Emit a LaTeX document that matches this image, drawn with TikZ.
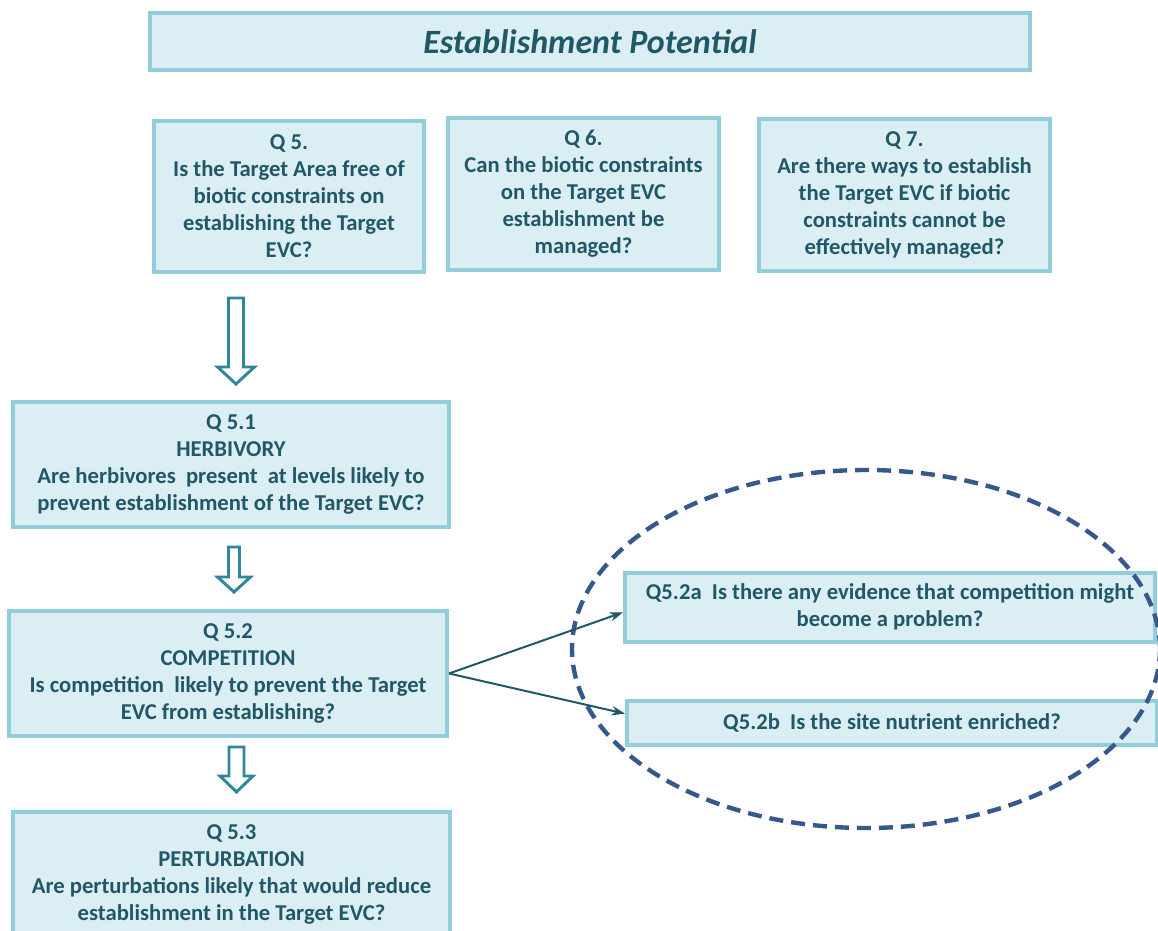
\documentclass[tikz,border=0pt]{standalone}
\usepackage{fontspec}
\setmainfont{Carlito}
\usetikzlibrary{shapes.geometric,arrows.meta}
\newlength{\pxu}
\setlength{\pxu}{0.75pt}
\definecolor{boxfill}{HTML}{DAEEF3}
\definecolor{boxline}{HTML}{92CDDC}
\definecolor{boxtext}{HTML}{215868}
\definecolor{arrowline}{HTML}{31859C}
\definecolor{ringline}{HTML}{35598D}
\tikzset{
  qbox/.style={draw=boxline, fill=boxfill, line width=3pt, inner sep=0pt,
    align=center, text=boxtext,
    font=\fontsize{17}{20.25}\selectfont\bfseries},
  hollow/.style={draw=arrowline, fill=white, line width=2.2pt, line join=miter},
  link/.style={draw=boxtext, line width=1.5pt, -{Stealth[length=10pt,width=7pt]}},
  ring/.style={draw=ringline, line width=3.3pt, dash pattern=on 10.5pt off 6pt}
}
\begin{document}
\begin{tikzpicture}[x=0.75pt, y=-0.75pt]
  \useasboundingbox (0,0) rectangle (1158,931);
  % title
  \node[qbox, minimum width=880\pxu, minimum height=57\pxu,
    font=\fontsize{25.5}{30}\selectfont\bfseries\itshape] (title) at (590,41.5)
    {Establishment Potential};
  % top row
  \node[qbox, minimum width=270\pxu, minimum height=151\pxu] (q5) at (289,196.5)
    {Q 5.\\Is the Target Area free of\\biotic constraints on\\establishing the Target\\EVC?};
  \node[qbox, minimum width=271\pxu, minimum height=152\pxu] (q6) at (583.5,194)
    {Q 6.\\Can the biotic constraints\\on the Target EVC\\establishment be\\managed?};
  \node[qbox, minimum width=291\pxu, minimum height=152\pxu] (q7) at (904.5,195)
    {Q 7.\\Are there ways to establish\\the Target EVC if biotic\\constraints cannot be\\effectively managed?};
  % left column
  \node[qbox, minimum width=436\pxu, minimum height=125\pxu] (q51) at (231,464.5)
    {Q 5.1\\HERBIVORY\\Are herbivores\ \ present\ \ at levels likely to\\prevent establishment of the Target EVC?};
  \node[qbox, minimum width=438\pxu, minimum height=125\pxu] (q52) at (228,673.5)
    {Q 5.2\\COMPETITION\\Is competition\ \ likely to prevent the Target\\EVC from establishing?};
  \node[qbox, minimum width=437\pxu, minimum height=125\pxu] (q53) at (231.5,874.5)
    {Q 5.3\\PERTURBATION\\Are perturbations likely that would reduce\\establishment in the Target EVC?};
  % sub questions
  \node[qbox, minimum width=530\pxu, minimum height=69\pxu] (q52a) at (890,607)
    {Q5.2a\ \ Is there any evidence that competition might\\become a problem?};
  \node[qbox, minimum width=530\pxu, minimum height=44\pxu] (q52b) at (892,723)
    {Q5.2b\ \ Is the site nutrient enriched?};
  \node[ring, ellipse, minimum width=588\pxu, minimum height=358\pxu] (grp) at (866,649) {};
  % hollow arrows
  \foreach \ax/\ay/\by/\sw/\hw/\hl in {236/298/384/7.5/18.5/17, 234/547/592/5.5/16.5/15, 236.5/747/792/7.5/16.5/16}
    \draw[hollow] (\ax-\sw,\ay) -- (\ax+\sw,\ay) -- (\ax+\sw,\by-\hl) -- (\ax+\hw,\by-\hl)
      -- (\ax,\by) -- (\ax-\hw,\by-\hl) -- (\ax-\sw,\by-\hl) -- cycle;
  % connectors
  \draw[link] (q52.east) -- ([yshift=-4pt]q52a.west);
  \draw[link] (q52.east) -- ([yshift=7pt]q52b.west);
\end{tikzpicture}
\end{document}
